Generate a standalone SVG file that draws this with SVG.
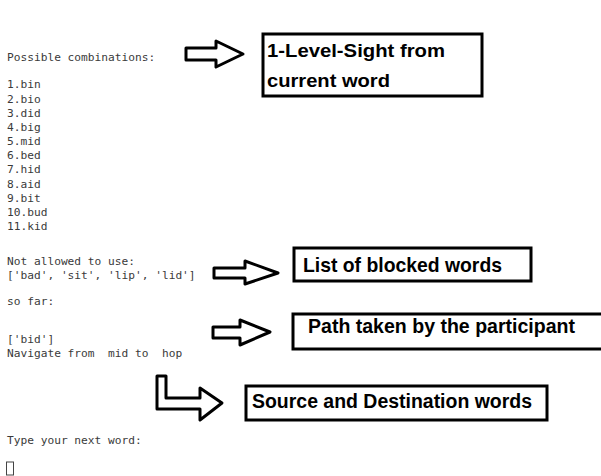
<svg xmlns="http://www.w3.org/2000/svg" width="601" height="476" viewBox="0 0 601 476">
<style>
.term{font-family:"DejaVu Sans Mono","Liberation Mono",monospace;font-size:11.2px;fill:#3a3a3a}
.box{fill:#fff;stroke:#000;stroke-width:3}
.lbl{font-family:"Liberation Sans",Arial,sans-serif;font-weight:bold;fill:#000}
.arr{fill:#fff;stroke:#000;stroke-width:3;stroke-linejoin:round}
</style>
<rect width="601" height="476" fill="#fff"/>
<g id="terminal">
<text class="term" x="7" y="60.5">Possible combinations:</text>
<text class="term" x="7" y="88.3">1.bin</text>
<text class="term" x="7" y="102.5">2.bio</text>
<text class="term" x="7" y="116.6">3.did</text>
<text class="term" x="7" y="130.8">4.big</text>
<text class="term" x="7" y="145">5.mid</text>
<text class="term" x="7" y="159.2">6.bed</text>
<text class="term" x="7" y="173.3">7.hid</text>
<text class="term" x="7" y="187.5">8.aid</text>
<text class="term" x="7" y="201.7">9.bit</text>
<text class="term" x="7" y="215.8">10.bud</text>
<text class="term" x="7" y="230">11.kid</text>
<text class="term" x="7" y="264.5">Not allowed to use:</text>
<text class="term" x="7" y="278.7">['bad', 'sit', 'lip', 'lid']</text>
<text class="term" x="7" y="305.3">so far:</text>
<text class="term" x="7" y="342.7">['bid']</text>
<text class="term" x="7" y="356.8" xml:space="preserve">Navigate from  mid to  hop</text>
<text class="term" x="7" y="444">Type your next word:</text>
<rect x="6.5" y="462" width="7" height="13" fill="none" stroke="#444" stroke-width="1"/>
</g>
<g id="connectors">
<polygon class="arr" points="186,48 216,48 216,41 243,54 216,67 216,60 186,60"/>
<polygon class="arr" points="214,268 245,268 245,261 278,273 245,284 245,278 214,278"/>
<polygon class="arr" points="213,327 240,327 240,320 270,332 240,345 240,338 213,338"/>
<polygon class="arr" points="157,376 166,376 166,398 200,398 200,388 222,403 200,420 200,409 157,409"/>
</g>
<g id="box-sight">
<rect class="box" x="263" y="34" width="219" height="62"/>
<text class="lbl" x="267" y="57" font-size="19" textLength="178" lengthAdjust="spacingAndGlyphs">1-Level-Sight from</text>
<text class="lbl" x="267" y="86.5" font-size="19" textLength="123" lengthAdjust="spacingAndGlyphs">current word</text>
</g>
<g id="box-blocked">
<rect class="box" x="294" y="248" width="237" height="33"/>
<text class="lbl" x="303" y="272" font-size="20.5" textLength="199" lengthAdjust="spacingAndGlyphs">List of blocked words</text>
</g>
<g id="box-path">
<rect class="box" x="293" y="314" width="310" height="35"/>
<text class="lbl" x="308" y="333" font-size="20" textLength="267" lengthAdjust="spacingAndGlyphs">Path taken by the participant</text>
</g>
<g id="box-source">
<rect class="box" x="246" y="386" width="301" height="34"/>
<text class="lbl" x="252" y="408" font-size="20" textLength="280" lengthAdjust="spacingAndGlyphs">Source and Destination words</text>
</g>
</svg>
